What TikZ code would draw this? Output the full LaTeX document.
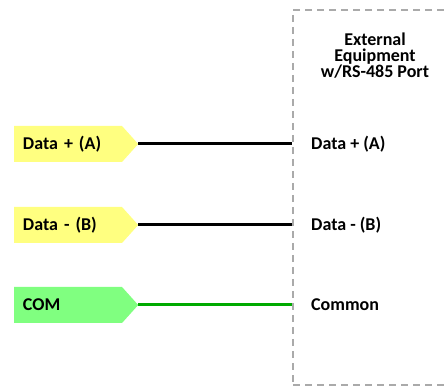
\documentclass[tikz,border=0pt]{standalone}
\usepackage{fontspec}
\setmainfont{Carlito}[BoldFont={Carlito Bold}]
\usetikzlibrary{shapes.symbols}
\definecolor{tagyellow}{HTML}{FFFF80}
\definecolor{taggreen}{HTML}{80FF80}
\definecolor{wiregreen}{HTML}{00AA00}
\definecolor{boxgray}{HTML}{AAAAAA}
\begin{document}
\begin{tikzpicture}[x=1pt,y=1pt,
  tag/.style={shape=signal, signal to=east, signal pointer angle=96,
    minimum height=36pt, inner xsep=9pt, inner ysep=0pt,
    text width=90pt, align=left, font=\bfseries\fontsize{18}{16}\selectfont},
  wire/.style={line width=3pt},
  lbl/.style={anchor=west, inner sep=0pt, font=\bfseries\fontsize{18}{16}\selectfont}]
\useasboundingbox (0,0) rectangle (444,388);
\node[draw=boxgray, dash pattern=on 7pt off 5pt, line width=1.5pt,
  minimum width=170pt, minimum height=375pt, inner sep=0pt] (eq) at (378,190.5) {};
\node[align=center, inner sep=0pt, font=\bfseries\fontsize{18}{16}\selectfont] (title) at (375,332) {External\\Equipment\\w/RS-485 Port};
\node[tag, fill=tagyellow] (ta) at (68,244) {Data + (A)};
\node[tag, fill=tagyellow] (tb) at (68,163) {Data - (B)};
\node[tag, fill=taggreen] (tc) at (68,83) {COM};
\draw[wire] (ta.east) -- (ta.east -| eq.west);
\draw[wire] (tb.east) -- (tb.east -| eq.west);
\draw[wire, wiregreen] (tc.east) -- (tc.east -| eq.west);
\node[lbl] (ra) at (311,244) {Data + (A)};
\node[lbl] (rb) at (311,163) {Data - (B)};
\node[lbl] (rc) at (311,83) {Common};
\end{tikzpicture}
\end{document}
